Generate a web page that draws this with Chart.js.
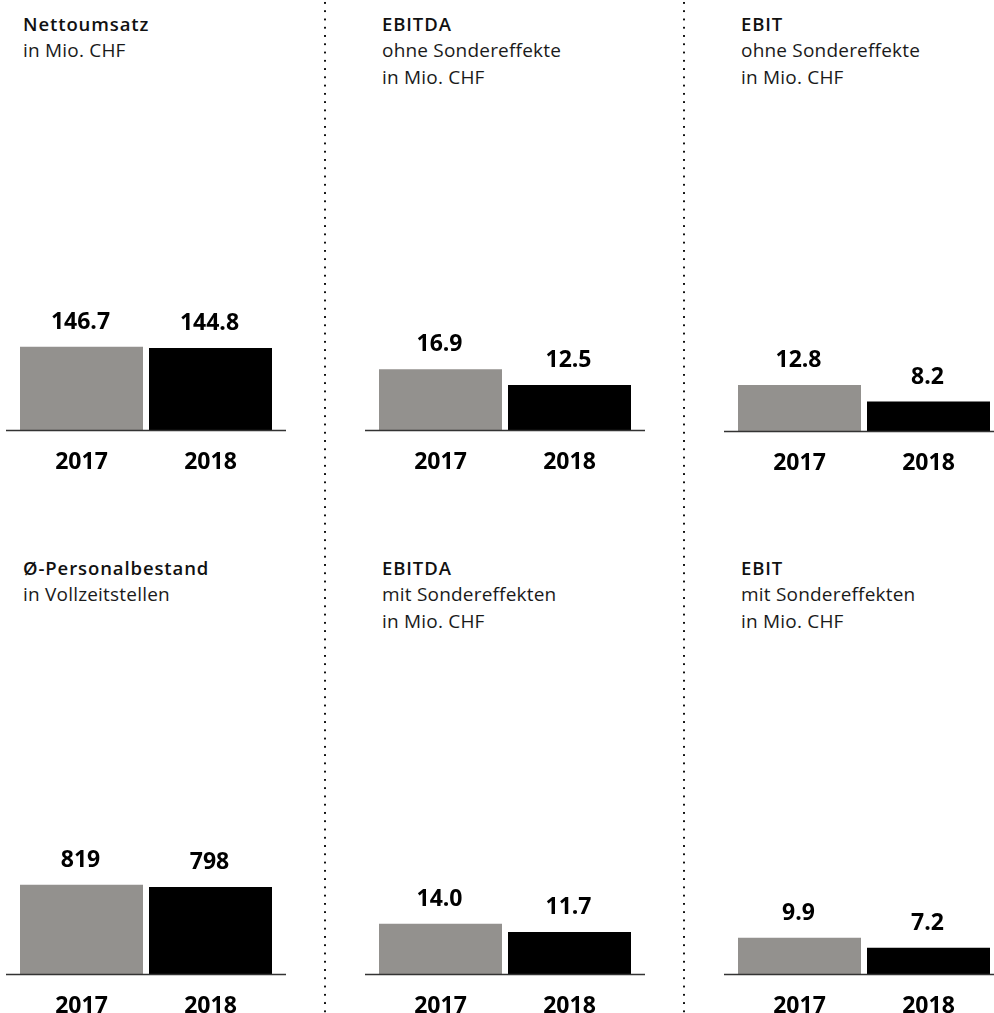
<!DOCTYPE html>
<html>
<head>
<meta charset="utf-8">
<script src="https://cdn.jsdelivr.net/npm/chart.js@4.4.1/dist/chart.umd.min.js"></script>
<style>
  html, body { margin: 0; padding: 0; background: #fff; }
  body { width: 994px; height: 1013px; position: relative; overflow: hidden;
         font-family: "Open Sans", "Noto Sans", sans-serif; color: #111; }
  .sep { position: absolute; top: 2px; bottom: 0; width: 2px;
         background-image: linear-gradient(#111 0 2px, transparent 2px);
         background-size: 2px 8.28px; }
  .head { position: absolute; font-size: 19px; line-height: 27px; white-space: nowrap; }
  .head b { display: block; font-weight: 600; font-size: 18.5px; letter-spacing: 0.9px; }
  .head span { display: block; font-weight: 400; letter-spacing: 0.2px; color: #1a1a1a; }
  .box { position: absolute; width: 280px; height: 215px; }
</style>
</head>
<body>
<div class="sep" style="left:324px"></div>
<div class="sep" style="left:683px"></div>

<script>
// key figures 2017 / 2018
var years = ['2017', '2018'];
var nettoumsatz = [146.7, 144.8];
var ebitdaOhne = [16.9, 12.5];
var ebitOhne = [12.8, 8.2];
var personalbestand = [819, 798];
var ebitdaMit = [14.0, 11.7];
var ebitMit = [9.9, 7.2];

var titles = ['Nettoumsatz', 'EBITDA', 'EBIT', 'Ø-Personalbestand', 'EBITDA', 'EBIT'];
var subtitles = [
  ['in Mio. CHF'],
  ['ohne Sondereffekte', 'in Mio. CHF'],
  ['ohne Sondereffekte', 'in Mio. CHF'],
  ['in Vollzeitstellen'],
  ['mit Sondereffekten', 'in Mio. CHF'],
  ['mit Sondereffekten', 'in Mio. CHF']
];
var series = [nettoumsatz, ebitdaOhne, ebitOhne, personalbestand, ebitdaMit, ebitMit];
var decimals = [1, 1, 1, 0, 1, 1];
// value range per panel (each panel has its own scale)
var axisMax = [264.5, 41.7, 41.7, 1376, 41.7, 41.1];

var GRAY = '#93918e';
var BLACK = '#000000';
var FONT = '"Open Sans", "Noto Sans", sans-serif';

// panel placement: column offset and canvas top
var colLeft = [0, 359, 718, 0, 359, 718];
var headTop = [10, 10, 10, 554, 554, 554];
var chartTop = [280, 280, 281, 824, 824, 824];

var baseline = {
  id: 'baseline',
  afterDatasetsDraw: function (chart) {
    var ctx = chart.ctx;
    var y = chart.scales.y.getPixelForValue(0);
    ctx.save();
    ctx.strokeStyle = '#333';
    ctx.lineWidth = 1.5;
    ctx.beginPath();
    ctx.moveTo(0, y + 0.5);
    ctx.lineTo(chart.width, y + 0.5);
    ctx.stroke();
    ctx.restore();
  }
};

var valueLabels = {
  id: 'valueLabels',
  afterDatasetsDraw: function (chart, args, opts) {
    var ctx = chart.ctx;
    var ds = chart.data.datasets[0];
    var meta = chart.getDatasetMeta(0);
    ctx.save();
    ctx.font = 'bold 23px ' + FONT;
    ctx.fillStyle = '#000';
    ctx.textAlign = 'center';
    ctx.textBaseline = 'alphabetic';
    meta.data.forEach(function (bar, i) {
      ctx.fillText(ds.data[i].toFixed(opts.decimals), bar.x - 1, bar.y - 18);
    });
    ctx.restore();
  }
};

series.forEach(function (values, i) {
  var head = document.createElement('div');
  head.className = 'head';
  head.style.left = (23 + colLeft[i]) + 'px';
  head.style.top = headTop[i] + 'px';
  var b = document.createElement('b');
  b.textContent = titles[i];
  head.appendChild(b);
  subtitles[i].forEach(function (s) {
    var sp = document.createElement('span');
    sp.textContent = s;
    head.appendChild(sp);
  });
  document.body.appendChild(head);

  var box = document.createElement('div');
  box.className = 'box';
  box.style.left = (6 + colLeft[i]) + 'px';
  box.style.top = chartTop[i] + 'px';
  var canvas = document.createElement('canvas');
  canvas.width = 280;
  canvas.height = 215;
  box.appendChild(canvas);
  document.body.appendChild(box);

  new Chart(canvas, {
    type: 'bar',
    data: {
      labels: years,
      datasets: [{
        data: values,
        backgroundColor: [GRAY, BLACK],
        borderWidth: 0,
        barPercentage: 123 / 129,
        categoryPercentage: 1
      }]
    },
    options: {
      responsive: false,
      animation: false,
      events: [],
      layout: { padding: { left: 11, right: 11, top: 0, bottom: 0 } },
      plugins: {
        legend: { display: false },
        tooltip: { enabled: false },
        valueLabels: { decimals: decimals[i] }
      },
      scales: {
        x: {
          grid: { display: false, drawTicks: false },
          border: { display: false },
          ticks: { color: '#000', padding: 21, font: { family: FONT, size: 23, weight: 'bold', lineHeight: 1 } }
        },
        y: { display: false, min: 0, max: axisMax[i] }
      }
    },
    plugins: [baseline, valueLabels]
  });
});
</script>
</body>
</html>
